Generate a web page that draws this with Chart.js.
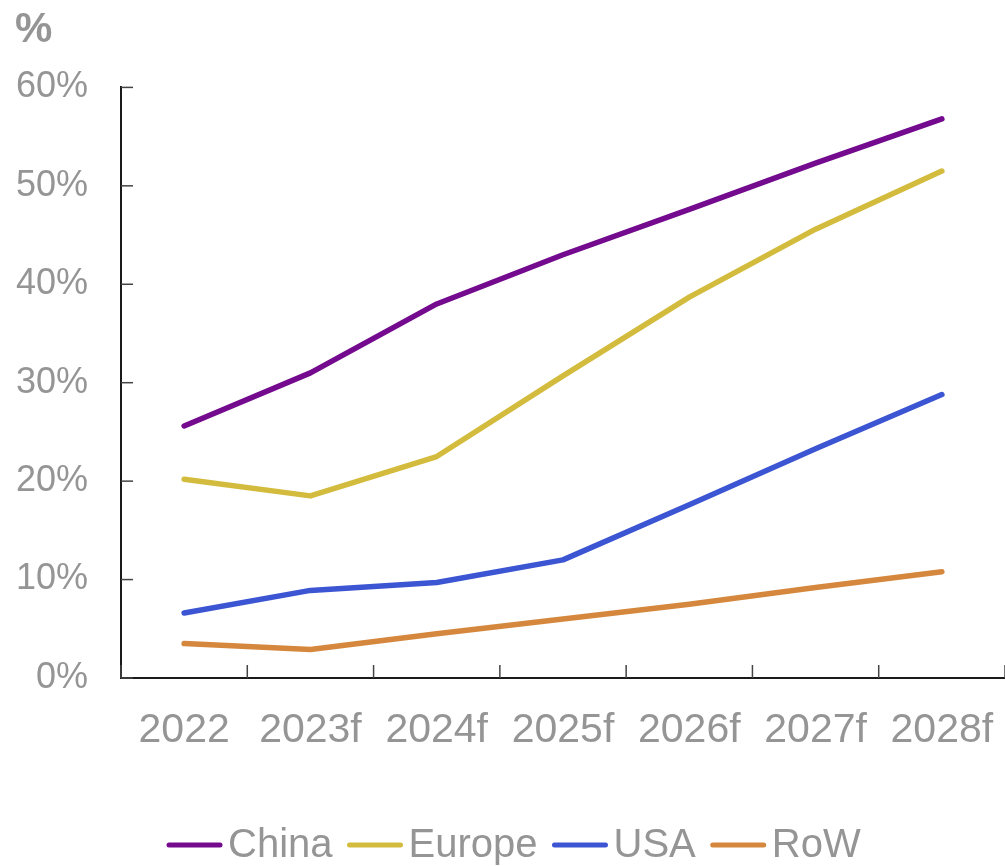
<!DOCTYPE html>
<html>
<head>
<meta charset="utf-8">
<script src="https://cdn.jsdelivr.net/npm/chart.js@4/dist/chart.umd.min.js"></script>
<style>
  html, body { margin: 0; padding: 0; background: #fff; }
  #wrap { width: 1005px; height: 866px; }
</style>
</head>
<body>
<div id="wrap"><canvas id="shareChart"></canvas></div>
<script>
// share of market, % by region
const years = ["2022", "2023f", "2024f", "2025f", "2026f", "2027f", "2028f"];
const china = [25.6, 31.0, 38.0, 43.0, 47.6, 52.3, 56.8];
const europe = [20.2, 18.5, 22.5, 30.7, 38.7, 45.6, 51.5];
const usa = [6.6, 8.9, 9.7, 12.0, 17.6, 23.3, 28.8];
const row = [3.5, 2.9, 4.5, 6.0, 7.5, 9.2, 10.8];
const yTicks = [0, 10, 20, 30, 40, 50, 60];

const grey = "#959595";
const font = "'Liberation Sans', Arial, sans-serif";

function series(label, data, color) {
  return {
    label,
    data,
    borderColor: color,
    backgroundColor: color,
    borderWidth: 5.5,
    borderCapStyle: "round",
    borderJoinStyle: "round",
    pointRadius: 0,
    tension: 0,
    fill: false,
  };
}

// short tick marks drawn inside the axes
const innerTicks = {
  id: "innerTicks",
  afterDraw(chart) {
    const { ctx, chartArea, scales } = chart;
    ctx.save();
    ctx.strokeStyle = "#444";
    ctx.lineWidth = 1.5;
    scales.y.ticks.forEach((t, i) => {
      const y = scales.y.getPixelForTick(i);
      ctx.beginPath();
      ctx.moveTo(chartArea.left, y);
      ctx.lineTo(chartArea.left + 12, y);
      ctx.stroke();
    });
    for (let i = 0; i <= years.length; i++) {
      const x = scales.x.getPixelForValue(i - 0.5);
      ctx.beginPath();
      ctx.moveTo(x, chartArea.bottom);
      ctx.lineTo(x, chartArea.bottom - 13);
      ctx.stroke();
    }
    ctx.restore();
  },
};

// legend row under the chart: line marker + name
const lineLegend = {
  id: "lineLegend",
  afterDraw(chart) {
    const { ctx } = chart;
    const y = 845;
    let x = 167;
    ctx.save();
    ctx.font = "40px " + font;
    ctx.textBaseline = "middle";
    ctx.textAlign = "left";
    chart.data.datasets.forEach(ds => {
      ctx.strokeStyle = ds.borderColor;
      ctx.lineWidth = 5;
      ctx.lineCap = "round";
      ctx.beginPath();
      ctx.moveTo(x + 2, y);
      ctx.lineTo(x + 53, y);
      ctx.stroke();
      x += 61;
      ctx.fillStyle = grey;
      ctx.fillText(ds.label, x, y + 1);
      x += ctx.measureText(ds.label).width + 15;
    });
    ctx.restore();
  },
};

new Chart(document.getElementById("shareChart"), {
  type: "line",
  data: {
    labels: years,
    datasets: [
      series("China", china, "#740a8e"),
      series("Europe", europe, "#d3bc3d"),
      series("USA", usa, "#3c55d2"),
      series("RoW", row, "#d5883d"),
    ],
  },
  options: {
    responsive: true,
    maintainAspectRatio: false,
    animation: false,
    layout: { padding: { left: 15, right: 0, top: 0, bottom: 78 } },
    plugins: {
      title: {
        display: true,
        text: "%",
        align: "start",
        color: grey,
        font: { family: font, size: 42, weight: "bold" },
        padding: { top: 5, bottom: 32 },
      },
      legend: { display: false },
      tooltip: { enabled: false },
    },
    scales: {
      x: {
        offset: true,
        grid: { display: false, drawTicks: false },
        border: { display: true, color: "#1a1a1a", width: 2 },
        ticks: {
          color: grey,
          font: { family: font, size: 41 },
          padding: 28,
          maxRotation: 0,
        },
        afterFit(scale) {
          scale.height = 110;
          scale.paddingLeft = 0;
          scale.paddingRight = 0;
        },
      },
      y: {
        min: 0,
        max: 60,
        afterBuildTicks(scale) { scale.ticks = yTicks.map(v => ({ value: v })); },
        grid: { display: false, drawTicks: false },
        border: { display: true, color: "#1a1a1a", width: 2 },
        ticks: {
          color: grey,
          font: { family: font, size: 36 },
          padding: 33,
          callback: v => v + "%",
        },
        afterFit(scale) { scale.width = 106; },
      },
    },
  },
  plugins: [innerTicks, lineLegend],
});
</script>
</body>
</html>
